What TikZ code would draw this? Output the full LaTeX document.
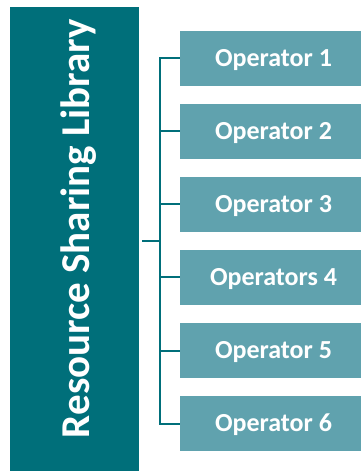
\documentclass[tikz,border=0pt]{standalone}
\usepackage{fontspec}
\setmainfont{Carlito}
\usetikzlibrary{positioning}

\definecolor{libteal}{RGB}{0,111,122}
\definecolor{opteal}{RGB}{96,162,174}

\begin{document}
\begin{tikzpicture}[x=1bp,y=-1bp,node distance=18bp,
    lib box/.style={rectangle,fill=libteal,minimum width=129bp,minimum height=467bp,inner sep=0pt},
    op box/.style={rectangle,fill=opteal,minimum width=181bp,minimum height=54.6bp,inner sep=0pt,
        text=white,font=\fontsize{26bp}{28bp}\selectfont\bfseries,text height=16.7bp,text depth=0pt},
    link/.style={draw=libteal,line width=2bp}]

\useasboundingbox (0,0) rectangle (361,471);

\node[lib box] (lib) at (74.5,240.5) {};
\node[rotate=90,anchor=base,text=white,font=\fontsize{41bp}{44bp}\selectfont\bfseries] (title) at (89,228.5) {Resource Sharing Library};

\node[op box] (op1) at (270.5,58.5) {\hspace{6bp}Operator 1};
\node[op box] (op2) [below=of op1] {\hspace{6bp}Operator 2};
\node[op box] (op3) [below=of op2] {\hspace{6bp}Operator 3};
\node[op box] (op4) [below=of op3] {\hspace{6bp}Operators 4};
\node[op box] (op5) [below=of op4] {\hspace{6bp}Operator 5};
\node[op box] (op6) [below=of op5] {\hspace{6bp}Operator 6};

\coordinate (hub) at (160,240.5);

\draw[link,shorten <=3bp] (lib.east) -- (hub);
\draw[link] (op1.west) -| (hub) |- (op6.west);
\draw[link] (op2.west) -- (op2.west -| hub);
\draw[link] (op3.west) -- (op3.west -| hub);
\draw[link] (op4.west) -- (op4.west -| hub);
\draw[link] (op5.west) -- (op5.west -| hub);
\end{tikzpicture}
\end{document}
